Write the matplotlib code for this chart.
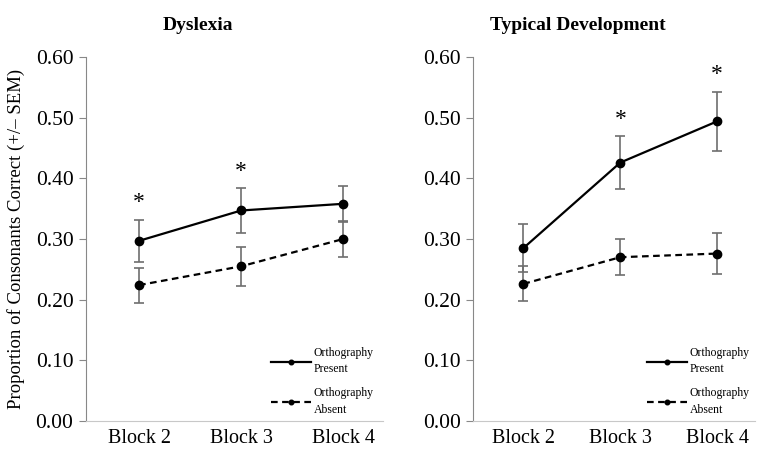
import matplotlib
matplotlib.use('Agg')
import numpy as np
from matplotlib import pyplot as plt

plt.rcParams['font.family'] = ['Liberation Serif', 'DejaVu Serif']

blocks = ['Block 2', 'Block 3', 'Block 4']
yticks = [0.0, 0.1, 0.2, 0.3, 0.4, 0.5, 0.6]

# Dyslexia
dys_present = [0.297, 0.347, 0.358]
dys_present_sem = [0.035, 0.037, 0.030]
dys_absent = [0.224, 0.255, 0.300]
dys_absent_sem = [0.029, 0.032, 0.029]
dys_stars = [0, 1]

# Typical development
td_present = [0.285, 0.426, 0.494]
td_present_sem = [0.039, 0.043, 0.049]
td_absent = [0.226, 0.270, 0.276]
td_absent_sem = [0.029, 0.030, 0.034]
td_stars = [1, 2]

fig = plt.figure(figsize=(7.57, 4.49), dpi=100)
ax1 = fig.add_axes([86/757, 28/449, 297/757, 364/449])
ax2 = fig.add_axes([473/757, 28/449, 282/757, 364/449])

def panel(ax, present, psem, absent, asem, stars, title, title_x, leg_x):
    x = np.arange(len(blocks))
    ax.errorbar(x, present, yerr=psem, fmt='none', ecolor='#6e6e6e',
                elinewidth=1.2, capsize=3.5, capthick=1.2, zorder=2)
    ax.errorbar(x, absent, yerr=asem, fmt='none', ecolor='#6e6e6e',
                elinewidth=1.2, capsize=3.5, capthick=1.2, zorder=2)
    ax.plot(x, present, color='black', lw=1.6, marker='o', ms=6,
            label='Orthography\nPresent', zorder=3)
    ax.plot(x, absent, color='black', lw=1.6, ls=(0, (3, 2)), marker='o', ms=6,
            label='Orthography\nAbsent', zorder=3)
    for i in stars:
        ax.annotate('*', (x[i], present[i] + psem[i]), xytext=(0, 8),
                    textcoords='offset points', ha='center', va='baseline',
                    fontsize=17)
    ax.set_xlim(-0.52, 2.39)
    ax.set_ylim(0, 0.6)
    ax.set_yticks(yticks)
    ax.set_yticklabels(['%.2f' % t for t in yticks], fontsize=15.5)
    ax.set_xticks(x)
    ax.set_xticklabels(blocks, fontsize=14.5)
    ax.tick_params(axis='x', length=0, pad=6)
    ax.tick_params(axis='y', length=5, color='#888888', pad=4)
    for s in ['top', 'right']:
        ax.spines[s].set_visible(False)
    ax.spines['left'].set_color('#888888')
    ax.spines['bottom'].set_color('#c8c8c8')
    fig.text(title_x/757, 1 - 30/449, title, ha='center', va='baseline',
             fontsize=14, fontweight='bold')
    leg = ax.legend(loc='upper left', bbox_to_anchor=(leg_x/757, 1 - 347/449),
                    bbox_transform=fig.transFigure, frameon=False, fontsize=8.5,
                    handlelength=3.4, handletextpad=0.2, labelspacing=1.0,
                    markerscale=0.55, borderpad=0, borderaxespad=0)
    for t in leg.get_texts():
        t.set_linespacing(1.5)

panel(ax1, dys_present, dys_present_sem, dys_absent, dys_absent_sem,
      dys_stars, 'Dyslexia', 198, 271)
panel(ax2, td_present, td_present_sem, td_absent, td_absent_sem,
      td_stars, 'Typical Development', 578, 647)

ax1.set_ylabel('Proportion of Consonants Correct (+/\u2013 SEM)', fontsize=13.5,
               labelpad=8)

fig.savefig('out.png', dpi=100)
